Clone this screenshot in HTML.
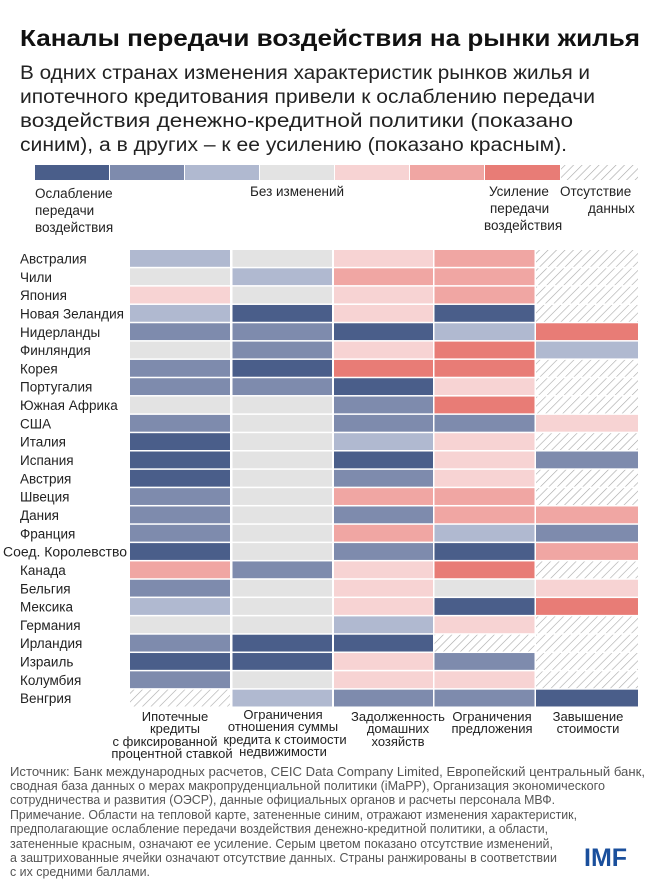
<!DOCTYPE html>
<html><head><meta charset="utf-8"><style>
body{margin:0;background:#fff;}
svg{display:block;font-family:"Liberation Sans","Noto Sans CJK SC",sans-serif;}
</style></head><body>
<svg width="668" height="892" viewBox="0 0 668 892" xmlns="http://www.w3.org/2000/svg">
<defs>
<pattern id="h" patternUnits="userSpaceOnUse" width="6" height="6" patternTransform="rotate(45)">
<rect width="6" height="6" fill="#fff"/><line x1="0" y1="0" x2="0" y2="6" stroke="#a8a8a8" stroke-width="1.2"/>
</pattern>
</defs>
<text x="20" y="46" font-size="23" font-weight="bold" fill="#111" textLength="620" lengthAdjust="spacingAndGlyphs">Каналы передачи воздействия на рынки жилья</text>
<g font-size="19" fill="#222">
<text x="20" y="79" textLength="570" lengthAdjust="spacingAndGlyphs">В одних странах изменения характеристик рынков жилья и</text>
<text x="20" y="103" textLength="575" lengthAdjust="spacingAndGlyphs">ипотечного кредитования привели к ослаблению передачи</text>
<text x="20" y="127" textLength="553" lengthAdjust="spacingAndGlyphs">воздействия денежно-кредитной политики (показано</text>
<text x="20" y="151" textLength="547" lengthAdjust="spacingAndGlyphs">синим), а в других – к ее усилению (показано красным).</text>
</g>
<g>
<rect x="35" y="165" width="74" height="15" fill="#4a5e8a"/>
<rect x="110" y="165" width="74" height="15" fill="#7e8bad"/>
<rect x="185" y="165" width="74" height="15" fill="#b0b9d0"/>
<rect x="260" y="165" width="74" height="15" fill="#e3e3e3"/>
<rect x="335" y="165" width="74" height="15" fill="#f7d3d3"/>
<rect x="410" y="165" width="74" height="15" fill="#f0a6a3"/>
<rect x="485" y="165" width="75" height="15" fill="#e87c76"/>
<rect x="561" y="165" width="77" height="15" fill="url(#h)"/>
</g>
<g font-size="13.5" fill="#222">
<text x="35" y="198">Ослабление</text>
<text x="35" y="215">передачи</text>
<text x="35" y="232">воздействия</text>
<text x="250" y="196">Без изменений</text>
<text x="489" y="196">Усиление</text>
<text x="490" y="213">передачи</text>
<text x="484" y="230">воздействия</text>
<text x="560" y="196">Отсутствие</text>
<text x="588" y="213">данных</text>
</g>
<g id="grid"></g>
<g font-size="13.5" fill="#222" id="labels"></g>
<g font-size="13" fill="#222" text-anchor="middle">
<text x="175" y="721">Ипотечные</text>
<text x="175" y="733">кредиты</text>
<text x="165" y="746">с фиксированной</text>
<text x="172" y="758">процентной ставкой</text>
<text x="283" y="719">Ограничения</text>
<text x="283" y="731">отношения суммы</text>
<text x="285" y="744">кредита к стоимости</text>
<text x="283" y="756">недвижимости</text>
<text x="398" y="721">Задолженность</text>
<text x="398" y="733">домашних</text>
<text x="398" y="746">хозяйств</text>
<text x="492" y="721">Ограничения</text>
<text x="492" y="733">предложения</text>
<text x="588" y="721">Завышение</text>
<text x="588" y="733">стоимости</text>
</g>
<g font-size="12.8" fill="#555" lengthAdjust="spacingAndGlyphs">
<text x="10" y="776" textLength="635" lengthAdjust="spacingAndGlyphs">Источник: Банк международных расчетов, CEIC Data Company Limited, Европейский центральный банк,</text>
<text x="10" y="790" textLength="595" lengthAdjust="spacingAndGlyphs">сводная база данных о мерах макропруденциальной политики (iMaPP), Организация экономического</text>
<text x="10" y="804" textLength="545" lengthAdjust="spacingAndGlyphs">сотрудничества и развития (ОЭСР), данные официальных органов и расчеты персонала МВФ.</text>
<text x="10" y="819" textLength="567" lengthAdjust="spacingAndGlyphs">Примечание. Области на тепловой карте, затененные синим, отражают изменения характеристик,</text>
<text x="10" y="833" textLength="538" lengthAdjust="spacingAndGlyphs">предполагающие ослабление передачи воздействия денежно-кредитной политики, а области,</text>
<text x="10" y="848" textLength="543" lengthAdjust="spacingAndGlyphs">затененные красным, означают ее усиление. Серым цветом показано отсутствие изменений,</text>
<text x="10" y="862" textLength="547" lengthAdjust="spacingAndGlyphs">а заштрихованные ячейки означают отсутствие данных. Страны ранжированы в соответствии</text>
<text x="10" y="876" textLength="140" lengthAdjust="spacingAndGlyphs">с их средними баллами.</text>
</g>
<text x="584" y="866" font-size="25" font-weight="bold" fill="#1a4f9c">IMF</text>
<script>
var C={1:"#4a5e8a",2:"#7e8bad",3:"#b0b9d0",4:"#e3e3e3",5:"#f7d3d3",6:"#f0a6a3",7:"#e87c76",0:"url(#h)"};
var D=[["Австралия","34560"],["Чили","43660"],["Япония","54560"],["Новая Зеландия","31510"],["Нидерланды","22137"],["Финляндия","42573"],["Корея","21770"],["Португалия","22150"],["Южная Африка","44270"],["США","24225"],["Италия","14350"],["Испания","14152"],["Австрия","14250"],["Швеция","24660"],["Дания","24266"],["Франция","24632"],["Соед. Королевство","14216"],["Канада","62570"],["Бельгия","24545"],["Мексика","34517"],["Германия","44350"],["Ирландия","21100"],["Израиль","11520"],["Колумбия","24550"],["Венгрия","03221"]];
var X=[130,232.5,334,434.5,536],W=[100,99.5,99,100,102];
var g=document.getElementById("grid"),l=document.getElementById("labels"),ns="http://www.w3.org/2000/svg";
D.forEach(function(r,i){var y=250+i*18.32;
var t=document.createElementNS(ns,"text");t.setAttribute("x",r[0].length>16?3:20);t.setAttribute("y",y+13.5);t.textContent=r[0];
if(r[0].length>16){t.setAttribute("textLength","124");t.setAttribute("lengthAdjust","spacingAndGlyphs");}
else if(r[0]=="Новая Зеландия"){t.setAttribute("textLength","104");t.setAttribute("lengthAdjust","spacingAndGlyphs");}
l.appendChild(t);
for(var j=0;j<5;j++){var e=document.createElementNS(ns,"rect");e.setAttribute("x",X[j]);e.setAttribute("y",y);e.setAttribute("width",W[j]);e.setAttribute("height",16.8);e.setAttribute("fill",C[r[1][j]]);g.appendChild(e);}
});
</script>
</svg>
</body></html>
